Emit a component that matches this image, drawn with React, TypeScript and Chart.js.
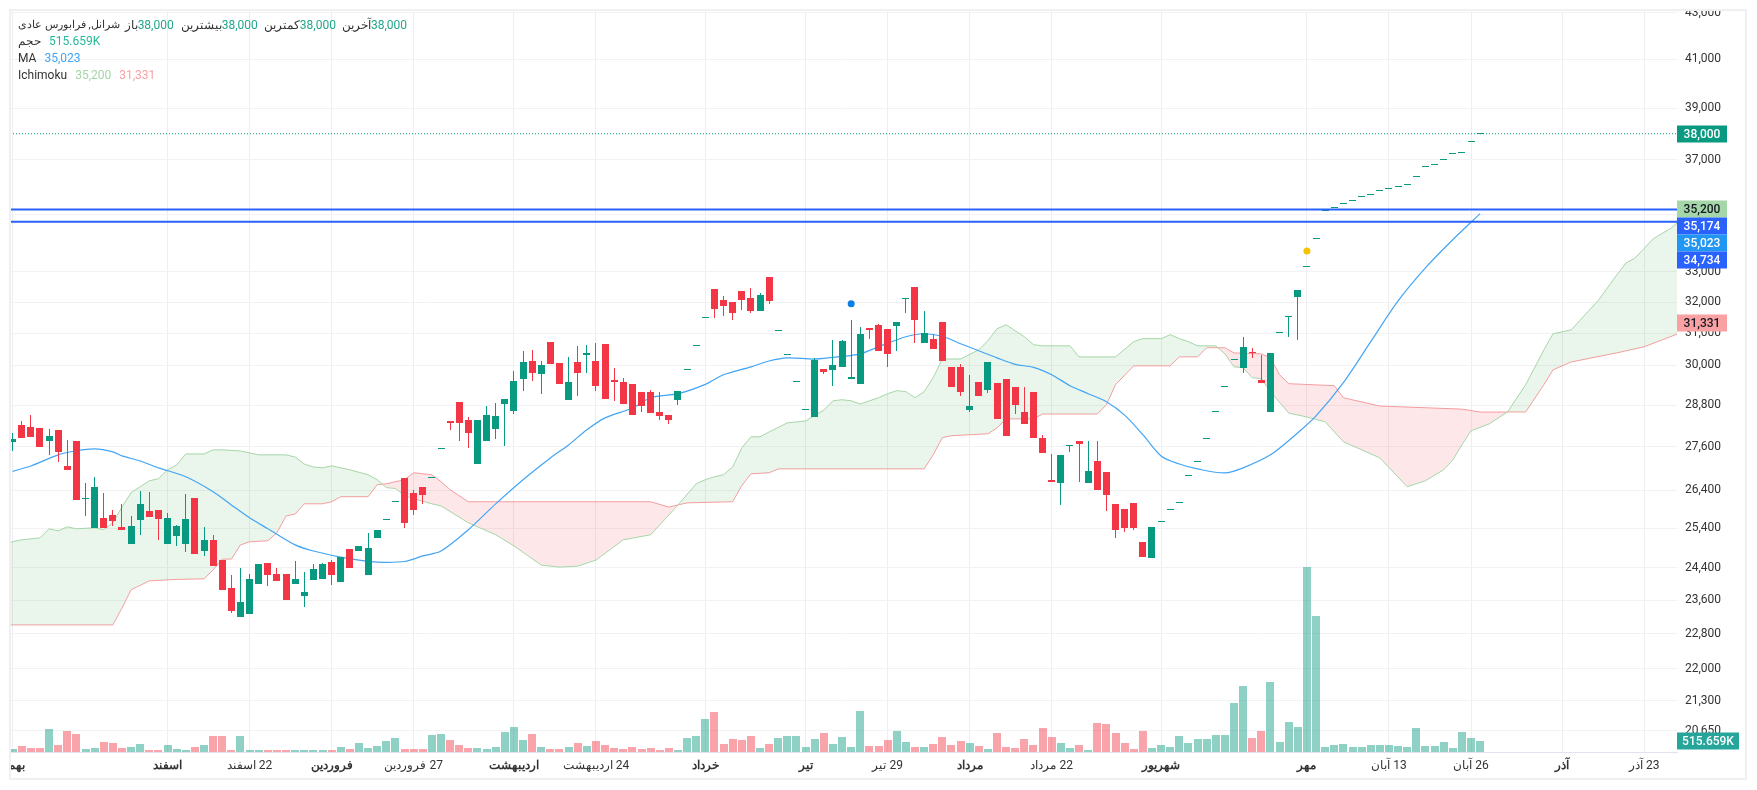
import React, { useEffect, useRef } from 'react';
import { Chart, registerables } from 'chart.js';

Chart.register(...registerables);

const opens = [27740, 28230, 28170, 28140, 27770, 28085, 27070, 27770, 26170, 25410, 25670, 25745, 25435, 25000, 25620, 25850, 25875, 25000, 25200, 25000, 26200, 24815, 25100, 24585, 23900, 23190, 23280, 24000, 24510, 24240, 24240, 24000, 23700, 24095, 24120, 24535, 24045, 24870, 24815, 24220, 25150, 25610, 26090, 26745, 26335, 26500, 26740, 27540, 28340, 28895, 28370, 27120, 27770, 28115, 28835, 28625, 29590, 30130, 29740, 30730, 30070, 28960, 30100, 30320, 30130, 30665, 29560, 29500, 29440, 29200, 29200, 28600, 28510, 28960, 29850, 30595, 31480, 32440, 32070, 32005, 32370, 32135, 31710, 32835, 31065, 30310, 29490, 28650, 28455, 29890, 29860, 29950, 29590, 29440, 31170, 31265, 31140, 31235, 32100, 32505, 30695, 30825, 31360, 29950, 29950, 28655, 29500, 29260, 29470, 29590, 29350, 28600, 29200, 27860, 26690, 26610, 27630, 27770, 26610, 27205, 26905, 26040, 25900, 26065, 25050, 24635, 25560, 25870, 26060, 26795, 27175, 27830, 28600, 29350, 30150, 29920, 30410, 29560, 28600, 31005, 31510, 32170, 33160, 34125, 35105, 35210, 35370, 35495, 35630, 35700, 35825, 35910, 36000, 36070, 36365, 36730, 36805, 37000, 37210, 37250, 37680, 38000];
const highs = [28000, 28340, 28510, 28140, 28115, 28085, 27800, 27770, 26610, 26770, 26340, 25875, 26040, 25720, 26390, 26360, 25875, 25800, 25490, 26310, 26200, 25435, 25230, 24585, 24220, 24390, 24240, 24490, 24510, 24390, 24240, 24560, 24290, 24490, 24510, 24585, 24660, 24870, 24945, 25280, 25360, 25610, 26090, 26745, 26420, 26500, 26740, 27540, 28340, 28895, 28455, 28370, 28775, 28865, 28985, 29830, 30445, 30475, 30130, 30730, 30070, 30255, 30600, 30635, 30695, 30665, 29920, 29620, 29440, 29200, 29260, 29200, 28510, 29230, 29850, 30595, 31480, 32440, 32205, 32005, 32370, 32470, 32305, 32835, 31065, 30310, 29490, 28650, 30225, 29890, 30790, 30790, 31425, 31200, 31170, 31300, 31140, 31360, 32135, 32505, 31710, 30950, 31360, 29950, 30040, 29710, 29500, 30100, 29470, 29590, 29350, 29350, 29200, 27945, 27400, 27375, 27630, 27770, 27770, 27770, 26905, 26040, 25900, 26065, 25050, 25435, 25560, 25870, 26060, 26795, 27175, 27830, 28600, 29350, 30150, 30885, 30540, 30320, 30380, 31005, 31510, 32400, 33160, 34125, 35105, 35210, 35370, 35495, 35630, 35700, 35825, 35910, 36000, 36070, 36365, 36730, 36805, 37000, 37210, 37250, 37680, 38000];
const lows = [27490, 27860, 27885, 27600, 27375, 27180, 26960, 26145, 25720, 25410, 25410, 25460, 25360, 25000, 25230, 25695, 25100, 25000, 24950, 24790, 24740, 24690, 24440, 23850, 23290, 23190, 23280, 24000, 23950, 24070, 23605, 24000, 23430, 24095, 24120, 23975, 24045, 24390, 24815, 24220, 25150, 25610, 26090, 25410, 25745, 26040, 26740, 27540, 28085, 27770, 27570, 27120, 27770, 27830, 27630, 28540, 29230, 29530, 29140, 30040, 29440, 28960, 29080, 29770, 29230, 28985, 28930, 28835, 28510, 28600, 28570, 28370, 28255, 28810, 29850, 30595, 31480, 31490, 31550, 31425, 31740, 31645, 31710, 31940, 31065, 30310, 29490, 28650, 28455, 29740, 29380, 29950, 29590, 29440, 30820, 30445, 29950, 30445, 31645, 30695, 30695, 30510, 30130, 29350, 29080, 28600, 29080, 29170, 28400, 27915, 28540, 28255, 27860, 27430, 26635, 26010, 27460, 26635, 26610, 26420, 25860, 25150, 25310, 25360, 24660, 24635, 25560, 25870, 26060, 26795, 27175, 27830, 28600, 29350, 30150, 29770, 30225, 29470, 28600, 31005, 30885, 30770, 33160, 34125, 35105, 35210, 35370, 35495, 35630, 35700, 35825, 35910, 36000, 36070, 36365, 36730, 36805, 37000, 37210, 37250, 37680, 38000];
const closes = [27830, 27860, 27885, 27600, 27915, 27460, 26960, 26145, 26200, 26500, 25410, 25590, 25360, 25460, 26040, 25695, 25640, 25670, 25460, 25640, 24740, 25100, 24440, 23850, 23340, 23555, 24120, 24490, 24220, 24070, 23605, 24120, 23800, 24365, 24490, 24220, 24660, 24390, 24945, 24895, 25360, 25610, 26090, 25540, 25875, 26280, 26740, 27540, 28285, 28285, 28000, 28370, 28510, 28485, 28985, 29530, 30100, 29770, 30010, 30040, 29440, 29500, 29770, 30380, 29380, 28985, 29500, 28835, 28510, 28775, 28570, 28485, 28370, 29230, 29850, 30595, 31480, 31775, 31870, 31645, 32070, 31710, 32240, 32040, 31065, 30310, 29490, 28650, 30160, 29800, 30010, 30760, 29650, 30980, 31110, 30445, 30350, 31360, 32135, 31425, 31015, 30510, 30130, 29350, 29200, 28775, 29080, 30100, 28400, 27915, 28810, 28255, 27860, 27430, 26635, 27375, 27630, 27685, 26935, 26420, 26285, 25360, 25410, 25410, 24660, 25435, 25560, 25870, 26060, 26795, 27175, 27830, 28600, 29350, 30150, 30570, 30365, 29470, 30380, 31005, 31510, 32400, 33160, 34125, 35105, 35210, 35370, 35495, 35630, 35700, 35825, 35910, 36000, 36070, 36365, 36730, 36805, 37000, 37210, 37250, 37680, 38000];
// thousands
const volumes = [141, 281, 188, 188, 1078, 328, 985, 844, 141, 188, 469, 422, 188, 234, 375, 94, 94, 328, 141, 94, 234, 328, 750, 750, 94, 750, 94, 94, 94, 94, 94, 94, 94, 94, 94, 94, 234, 141, 422, 188, 281, 516, 656, 141, 141, 141, 797, 844, 563, 328, 188, 188, 141, 234, 938, 1172, 563, 844, 234, 141, 141, 234, 422, 281, 516, 328, 188, 141, 234, 141, 188, 94, 188, 94, 656, 750, 1547, 1876, 375, 610, 563, 750, 188, 375, 656, 750, 750, 234, 610, 891, 375, 703, 234, 1922, 281, 281, 563, 985, 469, 234, 234, 375, 703, 328, 516, 422, 281, 141, 891, 234, 188, 610, 328, 1125, 703, 422, 188, 328, 94, 1360, 1313, 891, 422, 141, 985, 188, 328, 234, 750, 422, 610, 610, 797, 797, 2298, 3094, 656, 985, 3282, 469, 1407, 1172, 8673, 6376, 234, 328, 375, 234, 234, 328, 328, 328, 281, 234, 1125, 281, 281, 469, 188, 938, 656, 515.659];

// moving average, every couple of candles
const maIdx = [0, 2, 5, 7, 9, 11, 12, 14, 16, 19, 22, 24, 26, 28, 31, 33, 36, 38, 40, 43, 45, 47, 50, 53, 56, 59, 61, 63, 65, 68, 70, 73, 76, 78, 81, 83, 85, 88, 91, 93, 95, 98, 100, 102, 104, 106, 108, 110, 112, 114, 116, 118, 120, 122, 124, 126, 128, 130, 133, 135, 138, 141, 143, 146, 149, 152, 155, 158, 161];
const maVal = [26918, 27067, 27375, 27490, 27545, 27460, 27345, 27205, 27015, 26770, 26365, 26010, 25670, 25385, 24970, 24815, 24660, 24585, 24535, 24550, 24690, 24815, 25360, 26040, 26690, 27290, 27655, 28085, 28430, 28715, 29020, 29140, 29420, 29710, 29950, 30130, 30225, 30190, 30270, 30350, 30570, 30885, 30980, 30900, 30665, 30445, 30225, 30025, 29935, 29710, 29380, 29140, 28900, 28510, 27945, 27345, 27120, 26985, 26875, 27015, 27375, 28000, 28485, 29470, 30730, 32035, 33135, 34100, 35023];

const spanAIdx = [-1, 0, 1, 3, 4, 5, 6, 7, 9, 10, 11, 12, 13, 14, 15, 16, 17, 18, 19, 21, 22, 23, 25, 27, 30, 31, 32, 33, 34, 35, 37, 39, 40, 41, 42, 43, 44, 46, 47, 50, 53, 55, 58, 60, 62, 64, 67, 70, 72, 73, 75, 76, 77, 78, 79, 80, 81, 82, 83, 85, 87, 89, 90, 91, 92, 93, 95, 96, 97, 98, 99, 100, 101, 102, 104, 106, 107, 108, 109, 111, 112, 113, 116, 117, 121, 123, 124, 126, 127, 128, 129, 130, 132, 133, 134, 135, 136, 137, 138, 140, 142, 144, 146, 150, 153, 155, 157, 158, 159, 160, 162, 164, 166, 168, 169, 171, 174, 176, 177, 178, 180, 182, 183];
const spanAVal = [24970, 25050, 25100, 25150, 25385, 25330, 25435, 25385, 25410, 25360, 25540, 25955, 26340, 26500, 26660, 26715, 26960, 27095, 27400, 27400, 27515, 27515, 27485, 27375, 27375, 27315, 27120, 27040, 27015, 27070, 26960, 26825, 26690, 26475, 26450, 26260, 26175, 26040, 25985, 25540, 25230, 24945, 24460, 24410, 24435, 24585, 25100, 25230, 25745, 26010, 26580, 26690, 26770, 26825, 27040, 27570, 27885, 27885, 28025, 28285, 28340, 28655, 28930, 28960, 28930, 28835, 29020, 29140, 29230, 29200, 29020, 29200, 29620, 30190, 30190, 30475, 30760, 31140, 31265, 30885, 30635, 30600, 30600, 30255, 30255, 30730, 30825, 30825, 30950, 30825, 30730, 30600, 30600, 30350, 29950, 29920, 29620, 29590, 29200, 28570, 28455, 28315, 27745, 27290, 26500, 26660, 26960, 27230, 27655, 28055, 28255, 28600, 29410, 30475, 30980, 31105, 32065, 32900, 33300, 33470, 34135, 34520, 34800];
const spanBIdx = [-1, 11, 12, 13, 15, 18, 21, 22, 23, 24, 25, 26, 28, 29, 30, 31, 32, 34, 35, 36, 39, 40, 41, 43, 44, 46, 47, 48, 50, 70, 72, 74, 79, 80, 81, 83, 84, 100, 101, 102, 103, 107, 108, 109, 112, 113, 119, 120, 121, 123, 127, 128, 130, 131, 133, 134, 137, 138, 139, 140, 145, 146, 150, 159, 161, 166, 168, 169, 171, 176, 179, 181, 183];
const spanBVal = [23010, 23010, 23410, 23850, 24070, 24105, 24120, 24340, 24610, 24610, 24970, 25050, 25075, 25280, 25720, 25770, 26040, 26040, 26095, 26230, 26230, 26555, 26580, 26690, 26880, 26825, 26635, 26420, 26095, 26095, 25955, 26065, 26095, 26530, 26850, 26880, 26985, 26985, 27375, 27860, 27915, 27970, 28140, 28400, 28400, 28540, 28540, 28810, 29410, 29980, 29980, 30255, 30255, 30540, 30540, 30380, 30350, 30225, 29710, 29440, 29380, 29020, 28775, 28685, 28600, 28600, 29410, 29860, 30100, 30380, 30570, 30790, 31010];

const priceTicks = [43000, 41000, 39000, 37000, 35000, 33000, 32000, 31000, 30000, 28800, 27600, 26400, 25400, 24400, 23600, 22800, 22000, 21300, 20650];
const timeTickIdx = [0, 17, 26, 35, 44, 55, 64, 76, 87, 96, 105, 114, 126, 142, 151, 160, 170, 179];
const timeTickLabels = ['بهمن', 'اسفند', '22 اسفند', 'فروردین', '27 فروردین', 'اردیبهشت', '24 اردیبهشت', 'خرداد', 'تیر', '29 تیر', 'مرداد', '22 مرداد', 'شهریور', 'مهر', '13 آبان', '26 آبان', 'آذر', '23 آذر'];

const hLines = [35174, 34734];
const lastClose = 38000;
const blueDot = [92, 31940];
const yellowDot = [142, 33715];

const tagValues = [38000, 35200, 35174, 35023, 34734, 31331];
const tagBg = ['#089981', '#A5D6A7', '#2962FF', '#2196F3', '#2962FF', '#FAA1A4'];
const tagFg = ['#fff', '#131722', '#fff', '#fff', '#fff', '#131722'];

const UP = '#089981';
const DOWN = '#F23645';
const FONT = 'Roboto, "Noto Sans", sans-serif';

const isUp = (i: number) => closes[i] >= opens[i];
const pts = (xs: number[], ys: number[]) => xs.map((x, i) => ({ x, y: ys[i] }));

const xMin = -0.285;
const xMax = 182.6;

const snapBars = {
  id: 'snapBars',
  beforeDatasetDraw(_chart: any, args: any) {
    if (args.meta.type !== 'bar') return;
    args.meta.data.forEach((el: any) => {
      el.x = el.width % 2 ? Math.floor(el.x) + 0.5 : Math.round(el.x);
      el.y = Math.round(el.y);
      el.base = Math.round(el.base);
    });
  }
};

// covers what sticks out of the frame and draws the value tags on the price axis
const priceTags = {
  id: 'priceTags',
  afterDraw(chart: any) {
    const { ctx, chartArea, scales } = chart;
    ctx.save();
    ctx.fillStyle = '#fff';
    ctx.fillRect(0, 0, chart.width, chartArea.top);
    ctx.fillRect(0, 0, chartArea.left, chart.height);

    const tag = (y: number, w: number, text: string, bg: string, fg: string) => {
      ctx.fillStyle = bg;
      ctx.fillRect(chartArea.right, y - 8.5, w, 17);
      ctx.fillStyle = fg;
      ctx.font = '500 12px ' + FONT;
      ctx.textAlign = 'center';
      ctx.textBaseline = 'middle';
      ctx.fillText(text, chartArea.right + w / 2, y + 0.5);
    };

    let prev = -100;
    tagValues.forEach((v, i) => {
      const y = Math.max(Math.round(scales.y.getPixelForValue(v)), prev + 17);
      tag(y, 50, v.toLocaleString('en-US'), tagBg[i], tagFg[i]);
      prev = y;
    });
    const lastVol = volumes[volumes.length - 1];
    tag(Math.round(scales.vol.getPixelForValue(lastVol)), 62, lastVol.toFixed(3) + 'K', '#26A69A', '#fff');
    ctx.restore();
  }
};

const Legend: React.FC = () => {
  const row = (top: number): React.CSSProperties => ({
    position: 'absolute', left: 18, top, height: 16, lineHeight: '16px',
    display: 'flex', whiteSpace: 'nowrap', color: '#333', direction: 'ltr'
  });
  const teal = { color: '#22A68C' };
  return (
    <div style={{ font: '12px ' + FONT }}>
      <div style={row(17)}>
        <span dir="rtl" style={{ marginRight: 5, fontSize: 11 }}>شرانل, فرابورس عادی</span>
        <span>باز</span><span style={{ ...teal, marginRight: 7 }}>38,000</span>
        <span>بیشترین</span><span style={{ ...teal, marginRight: 6 }}>38,000</span>
        <span>کمترین</span><span style={{ ...teal, marginRight: 6 }}>38,000</span>
        <span>آخرین</span><span style={teal}>38,000</span>
      </div>
      <div style={row(33)}>
        <span style={{ marginRight: 8 }}>حجم</span>
        <span style={{ color: '#26B89A' }}>515.659K</span>
      </div>
      <div style={row(50)}>
        <span style={{ marginRight: 8 }}>MA</span>
        <span style={{ color: '#42A5F5' }}>35,023</span>
      </div>
      <div style={row(67)}>
        <span style={{ marginRight: 8 }}>Ichimoku</span>
        <span style={{ color: '#A5D6A7', marginRight: 8 }}>35,200</span>
        <span style={{ color: '#FAA1A4' }}>31,331</span>
      </div>
    </div>
  );
};

const App: React.FC = () => {
  const canvasRef = useRef<HTMLCanvasElement>(null);

  useEffect(() => {
    if (!canvasRef.current) return;
    const idx = opens.map((_, i) => i);

    const chart = new Chart(canvasRef.current, {
      type: 'bar',
      data: {
        datasets: [
          {
            type: 'line', label: 'spanA', data: pts(spanAIdx, spanAVal), borderColor: '#A5D6A7', borderWidth: 1,
            pointRadius: 0, order: 7,
            fill: { target: 1, above: 'rgba(67,160,71,0.11)', below: 'rgba(242,54,69,0.12)' }
          },
          {
            type: 'line', label: 'spanB', data: pts(spanBIdx, spanBVal), borderColor: '#FAA1A4', borderWidth: 1,
            pointRadius: 0, order: 7, fill: false
          },
          {
            label: 'volume', yAxisID: 'vol', data: idx.map(i => ({ x: i, y: volumes[i] })),
            backgroundColor: idx.map(i => (isUp(i) ? 'rgba(8,153,129,0.45)' : 'rgba(242,54,69,0.45)')),
            barThickness: 8, grouped: false, inflateAmount: 0, order: 8
          },
          {
            type: 'line', label: 'MA', data: pts(maIdx, maVal), borderColor: '#42A5F5', borderWidth: 1.2,
            pointRadius: 0, tension: 0.3, order: 5
          },
          {
            label: 'wick', data: idx.map(i => ({ x: i, y: [lows[i], highs[i]] })),
            backgroundColor: idx.map(i => (isUp(i) ? UP : DOWN)),
            barThickness: 1, grouped: false, inflateAmount: 0, order: 4
          },
          {
            label: 'body', data: idx.map(i => ({ x: i, y: [opens[i], closes[i]] })),
            backgroundColor: idx.map(i => (isUp(i) ? UP : DOWN)),
            barThickness: 7, grouped: false, inflateAmount: 0, minBarLength: 1, order: 3
          },
          ...hLines.map(v => ({
            type: 'line', label: 'level', data: pts([xMin, xMax], [v, v]), borderColor: '#2962FF', borderWidth: 2,
            pointRadius: 0, order: 2
          })),
          {
            type: 'line', label: 'last', data: pts([xMin, xMax], [lastClose, lastClose]), borderColor: UP, borderWidth: 1,
            borderDash: [1, 2], pointRadius: 0, order: 2
          },
          {
            type: 'line', label: 'blueDot', data: [{ x: blueDot[0], y: blueDot[1] }], showLine: false,
            pointRadius: 3.5, pointBackgroundColor: '#0A7FE6', pointBorderWidth: 0, order: 1
          },
          {
            type: 'line', label: 'yellowDot', data: [{ x: yellowDot[0], y: yellowDot[1] }], showLine: false,
            pointRadius: 3.5, pointBackgroundColor: '#F5C400', pointBorderWidth: 0, order: 1
          }
        ] as any
      },
      options: {
        responsive: false,
        animation: false,
        layout: { padding: { left: 10, top: 10, right: 0, bottom: 0 } },
        plugins: { legend: { display: false }, tooltip: { enabled: false } },
        scales: {
          x: {
            type: 'linear',
            offset: false,
            min: xMin,
            max: xMax,
            afterBuildTicks: (s: any) => { s.ticks = timeTickIdx.map(value => ({ value })); },
            afterFit: (s: any) => { s.height = 38; s.paddingLeft = 0; s.paddingRight = 0; },
            grid: { color: '#EEEEF1', drawTicks: false, offset: false },
            border: { display: true, color: '#E0E3EB' },
            ticks: {
              autoSkip: false,
              maxRotation: 0,
              padding: 7,
              color: '#333',
              font: (c: any) => ({ size: 12, family: FONT, weight: /\d/.test(timeTickLabels[c.index] || '') ? 'normal' : 'bold' }),
              callback: (_v: any, i: number) => timeTickLabels[i]
            }
          } as any,
          y: {
            type: 'logarithmic',
            position: 'right',
            min: 20210,
            max: 43119,
            afterBuildTicks: (s: any) => { s.ticks = priceTicks.map(value => ({ value })); },
            afterFit: (s: any) => { s.width = 80; s.paddingTop = 0; s.paddingBottom = 0; },
            grid: { color: '#F2F2F4', drawTicks: false },
            border: { display: false },
            ticks: {
              autoSkip: false,
              padding: 8,
              color: '#333',
              font: { size: 12, family: FONT },
              callback: (v: any) => Number(v).toLocaleString('en-US')
            }
          } as any,
          vol: { type: 'linear', display: false, min: 0, max: 34785 }
        }
      },
      plugins: [snapBars, priceTags]
    } as any);

    return () => chart.destroy();
  }, []);

  return (
    <div style={{ position: 'fixed', inset: 0, background: '#fff', overflow: 'hidden' }}>
      <canvas ref={canvasRef} dir="rtl" width={1757} height={790} style={{ display: 'block' }} />
      <div style={{ position: 'absolute', left: 9, top: 9, width: 1738, height: 771, boxSizing: 'border-box', border: '2px solid #F0F0F3', pointerEvents: 'none' }} />
      <Legend />
    </div>
  );
};

export default App;
